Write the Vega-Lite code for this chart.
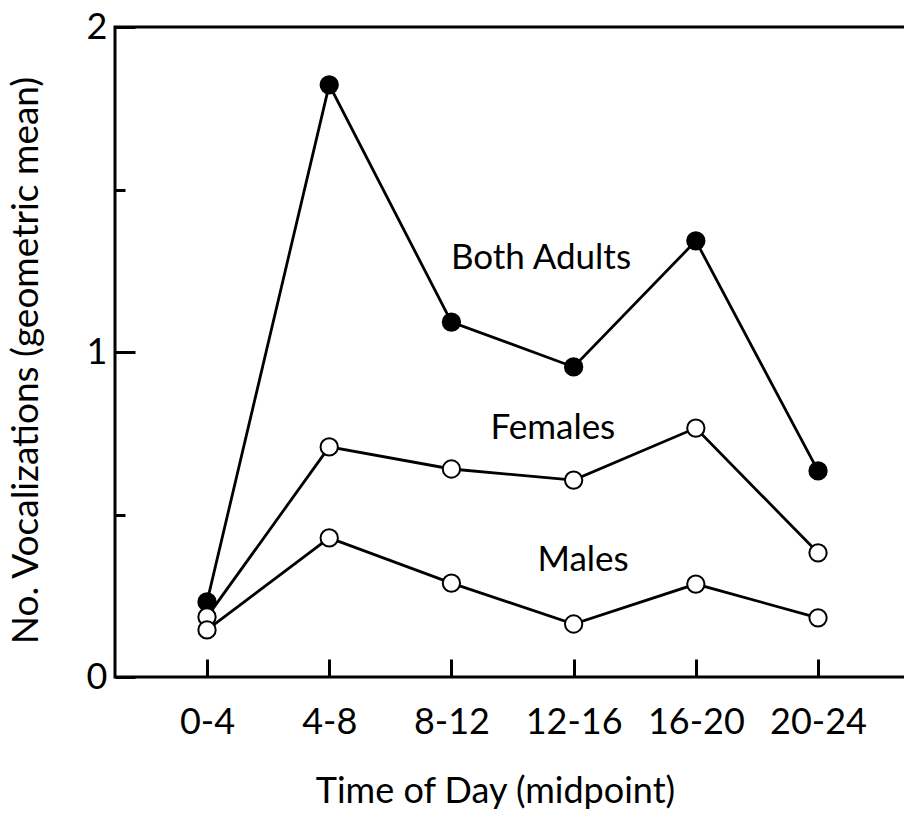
{
  "$schema": "https://vega.github.io/schema/vega-lite/v6.json",
  "width": 792,
  "height": 650,
  "autosize": "none",
  "padding": {"left": 115, "top": 27, "right": 0, "bottom": 137},
  "background": "white",
  "config": {
    "view": {"stroke": "black", "strokeWidth": 3},
    "font": "Lato"
  },
  "datasets": {
    "pts": [
      {"series": "Both Adults", "idx": 0, "period": "0-4", "value": 0.231},
      {"series": "Both Adults", "idx": 1, "period": "4-8", "value": 1.822},
      {"series": "Both Adults", "idx": 2, "period": "8-12", "value": 1.092},
      {"series": "Both Adults", "idx": 3, "period": "12-16", "value": 0.954},
      {"series": "Both Adults", "idx": 4, "period": "16-20", "value": 1.342},
      {"series": "Both Adults", "idx": 5, "period": "20-24", "value": 0.634},
      {"series": "Females", "idx": 0, "period": "0-4", "value": 0.185},
      {"series": "Females", "idx": 1, "period": "4-8", "value": 0.708},
      {"series": "Females", "idx": 2, "period": "8-12", "value": 0.640},
      {"series": "Females", "idx": 3, "period": "12-16", "value": 0.606},
      {"series": "Females", "idx": 4, "period": "16-20", "value": 0.766},
      {"series": "Females", "idx": 5, "period": "20-24", "value": 0.382},
      {"series": "Males", "idx": 0, "period": "0-4", "value": 0.145},
      {"series": "Males", "idx": 1, "period": "4-8", "value": 0.428},
      {"series": "Males", "idx": 2, "period": "8-12", "value": 0.289},
      {"series": "Males", "idx": 3, "period": "12-16", "value": 0.163},
      {"series": "Males", "idx": 4, "period": "16-20", "value": 0.286},
      {"series": "Males", "idx": 5, "period": "20-24", "value": 0.182}
    ],
    "labels": [
      {"series": "Both Adults", "idx": 2.733, "value": 1.289},
      {"series": "Females", "idx": 2.83, "value": 0.766},
      {"series": "Males", "idx": 3.077, "value": 0.36}
    ]
  },
  "layer": [
    {
      "data": {"name": "pts"},
      "mark": {"type": "line", "color": "black", "strokeWidth": 2.8},
      "encoding": {
        "x": {
          "field": "idx", "type": "quantitative",
          "scale": {"domain": [-0.753, 5.728], "nice": false, "zero": false},
          "axis": {
            "values": [0, 1, 2, 3, 4, 5],
            "labelExpr": "['0-4','4-8','8-12','12-16','16-20','20-24'][datum.value]",
            "domain": false,
            "tickSize": -18,
            "tickWidth": 3,
            "tickColor": "black",
            "labelFontSize": 36,
            "labelColor": "black",
            "labelBaseline": "alphabetic",
            "labelPadding": 74,
            "labelFlush": false,
            "grid": false,
            "title": "Time of Day (midpoint)",
            "titleFontSize": 36,
            "titleFontWeight": "normal",
            "titleColor": "black",
            "titleX": 380,
            "titleY": 125,
            "titleBaseline": "alphabetic",
            "titleAlign": "center"
          }
        },
        "y": {
          "field": "value", "type": "quantitative",
          "scale": {"domain": [0, 2], "nice": false},
          "axis": {
            "values": [0, 0.5, 1, 1.5, 2],
            "labelExpr": "datum.value % 1 == 0 ? format(datum.value, 'd') : ''",
            "domain": false,
            "tickSize": {"condition": {"test": "datum.value % 1 == 0", "value": -20}, "value": -10},
            "tickWidth": 3,
            "tickColor": "black",
            "labelFontSize": 36,
            "labelColor": "black",
            "labelPadding": 28,
            "labelFlush": false,
            "grid": false,
            "title": "No. Vocalizations (geometric mean)",
            "titleFontSize": 37,
            "titleFontWeight": "normal",
            "titleColor": "black",
            "titleX": -78,
            "titleY": 333,
            "titleBaseline": "alphabetic",
            "titleAlign": "center"
          }
        },
        "detail": {"field": "series"}
      }
    },
    {
      "data": {"name": "pts"},
      "mark": {"type": "point", "shape": "circle", "size": 300, "stroke": "black", "strokeWidth": 2, "opacity": 1, "filled": false},
      "encoding": {
        "x": {"field": "idx", "type": "quantitative"},
        "y": {"field": "value", "type": "quantitative"},
        "fill": {
          "field": "series", "type": "nominal",
          "scale": {"domain": ["Both Adults", "Females", "Males"], "range": ["black", "white", "white"]},
          "legend": null
        }
      }
    },
    {
      "data": {"name": "labels"},
      "mark": {"type": "text", "fontSize": 35, "color": "black", "align": "center", "baseline": "middle", "font": "Lato"},
      "encoding": {
        "x": {"field": "idx", "type": "quantitative"},
        "y": {"field": "value", "type": "quantitative"},
        "text": {"field": "series"}
      }
    }
  ]
}
